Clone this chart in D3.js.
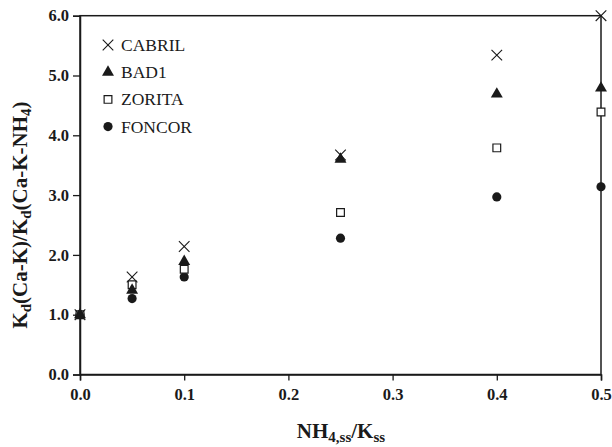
<!DOCTYPE html>
<html><head><meta charset="utf-8">
<script src="https://cdn.jsdelivr.net/npm/d3@7"></script>
<style>body{margin:0;background:#fff}svg{display:block}
text{font-family:"Liberation Serif","DejaVu Serif",serif !important}</style>
</head><body>
<svg id="c" width="612" height="447"></svg>
<script>
const xValues = [0, 0.05, 0.1, 0.25, 0.4, 0.5];
const cabril = [1.0, 1.63, 2.14, 3.67, 5.34, 6.0];
const bad1   = [1.0, 1.41, 1.89, 3.60, 4.69, 4.79];
const zorita = [1.0, 1.50, 1.76, 2.71, 3.79, 4.39];
const foncor = [1.0, 1.27, 1.63, 2.28, 2.97, 3.14];
const seriesNames = ["CABRIL", "BAD1", "ZORITA", "FONCOR"];
const xTicks = [0, 0.1, 0.2, 0.3, 0.4, 0.5];
const yTicks = [0, 1, 2, 3, 4, 5, 6];

const ink = "#1a1a1a";
const svg = d3.select("#c");
const x = d3.scaleLinear().domain([0, 0.5]).range([80, 601]);
const y = d3.scaleLinear().domain([0, 6]).range([374.5, 15.7]);

svg.append("rect").attr("x", x(0)).attr("y", y(6))
  .attr("width", x(0.5) - x(0)).attr("height", y(0) - y(6))
  .attr("fill", "none").attr("stroke", ink).attr("stroke-width", 1.5);

const xAxis = svg.append("g").attr("transform", `translate(0,${y(0)})`)
  .call(d3.axisBottom(x).tickValues(xTicks).tickFormat(d3.format(".1f")).tickSize(6).tickPadding(8));
const yAxis = svg.append("g").attr("transform", `translate(${x(0)},0)`)
  .call(d3.axisLeft(y).tickValues(yTicks).tickFormat(d3.format(".1f")).tickSize(7).tickPadding(4));
[xAxis, yAxis].forEach(a => {
  a.select(".domain").attr("stroke", ink).attr("stroke-width", 1.5);
  a.selectAll(".tick line").attr("stroke", ink).attr("stroke-width", 1.3);
  a.selectAll(".tick text").attr("fill", ink)
    .style("font-weight", "bold").style("font-size", "16.5px");
});

const data = [cabril, bad1, zorita, foncor];
const symbols = [
  {type: d3.symbolTimes, size: 75, fill: "none", stroke: ink, sw: 1.1},
  {type: d3.symbolTriangle, size: 62, fill: ink, stroke: "none", sw: 0},
  {type: d3.symbolSquare, size: 60, fill: "#fff", stroke: ink, sw: 1.2},
  {type: d3.symbolCircle, size: 66, fill: ink, stroke: "none", sw: 0}
];
const order = [3, 2, 1, 0];
order.forEach(i => {
  const s = symbols[i];
  svg.append("g").selectAll("path").data(xValues.map((xv, j) => [xv, data[i][j]]))
    .join("path")
    .attr("transform", d => `translate(${x(d[0])},${y(d[1])})`)
    .attr("d", d3.symbol().type(s.type).size(s.size))
    .attr("fill", s.fill).attr("stroke", s.stroke).attr("stroke-width", s.sw);
});

const leg = svg.append("g");
seriesNames.forEach((name, i) => {
  const s = symbols[i];
  const cy = 45 + i * 27.2;
  leg.append("path").attr("transform", `translate(108,${cy})`)
    .attr("d", d3.symbol().type(s.type).size(s.size))
    .attr("fill", s.fill).attr("stroke", s.stroke).attr("stroke-width", s.sw);
  leg.append("text").attr("x", 121).attr("y", cy + 6)
    .attr("fill", ink).style("font-size", "17.5px")
    .text(name);
});

const xt = svg.append("text").attr("x", 341).attr("y", 438).attr("text-anchor", "middle")
  .attr("fill", ink).style("font-weight", "bold").style("font-size", "21px");
xt.append("tspan").text("NH");
xt.append("tspan").attr("font-size", "15px").attr("dy", 3.5).text("4,ss");
xt.append("tspan").attr("dy", -3.5).text("/K");
xt.append("tspan").attr("font-size", "15px").attr("dy", 3.5).text("ss");

const yt = svg.append("text").attr("transform", "translate(27,215) rotate(-90)").attr("text-anchor", "middle")
  .attr("fill", ink).style("font-weight", "bold").style("font-size", "21px");
yt.append("tspan").text("K");
yt.append("tspan").attr("font-size", "15px").attr("dy", 4).text("d");
yt.append("tspan").attr("dy", -4).text("(Ca-K)/K");
yt.append("tspan").attr("font-size", "15px").attr("dy", 4).text("d");
yt.append("tspan").attr("dy", -4).text("(Ca-K-NH");
yt.append("tspan").attr("font-size", "15px").attr("dy", 4).text("4");
yt.append("tspan").attr("dy", -4).text(")");
</script>
</body></html>
